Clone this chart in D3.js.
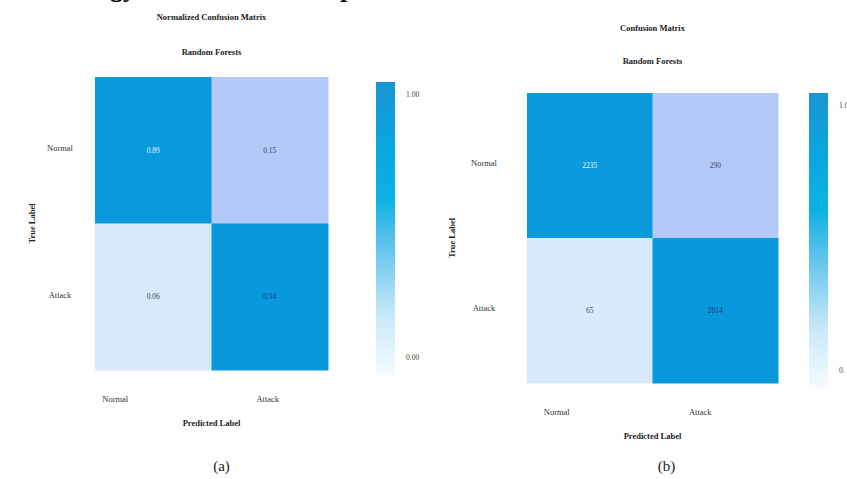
<!DOCTYPE html>
<html>
<head>
<meta charset="utf-8">
<script src="https://cdn.jsdelivr.net/npm/d3@7"></script>
<style>
  html, body { margin: 0; padding: 0; background: #ffffff; }
  svg { display: block; }
  text { font-family: "Liberation Serif", "DejaVu Serif", serif; }
</style>
</head>
<body>
<svg id="chart" width="847" height="479"></svg>
<script>
// Class labels shared by both matrices
const classes = ["Normal", "Attack"];

// Row-normalised confusion matrix (rows = true label, columns = predicted label)
const normalizedValues = [
  [0.89, 0.15],
  [0.06, 0.94]
];

// Raw confusion-matrix counts
const countValues = [
  [2235, 290],
  [65, 2814]
];

// Colour-bar tick labels
const normalizedBarTicks = ["1.00", "0.00"];
const countBarTicks = ["1.0", "0."];

const svg = d3.select("#chart");

// Cell fill palette, lightest to darkest
const cellPalette = ["#d8e9fb", "#b3c9f7", "#0a99db", "#0898dc"];

function drawPanel(cfg) {
  const g = svg.append("g");
  const flat = cfg.values.flat().slice().sort((a, b) => a - b);
  const color = d3.scaleLinear().domain(flat).range(cellPalette);

  const x = d3.scaleBand().domain(classes).range([cfg.left, cfg.right]);
  const y = d3.scaleBand().domain(classes).range([cfg.top, cfg.bottom]);

  const cells = [];
  cfg.values.forEach((row, i) => row.forEach((v, j) => cells.push({ t: classes[i], p: classes[j], v })));

  g.selectAll("rect.cell").data(cells).join("rect")
    .attr("class", "cell")
    .attr("x", d => x(d.p))
    .attr("y", d => y(d.t))
    .attr("width", x.bandwidth() + 0.5)
    .attr("height", y.bandwidth() + 0.5)
    .attr("fill", d => color(d.v));

  g.selectAll("text.val").data(cells).join("text")
    .attr("class", "val")
    .attr("x", d => x(d.p) + x.bandwidth() / 2)
    .attr("y", d => y(d.t) + y.bandwidth() / 2 + 1)
    .attr("text-anchor", "middle")
    .attr("dominant-baseline", "middle")
    .attr("font-size", 7.5)
    .attr("fill", d => d.v >= flat[2] ? (d.t === d.p && d.t === "Normal" ? "#e6f4ff" : "#1e3c6e") : "#3a4660")
    .text(d => cfg.format(d.v));

  // Axis tick labels
  g.selectAll("text.ytick").data(classes).join("text")
    .attr("class", "ytick")
    .attr("x", cfg.left - cfg.yTickGap)
    .attr("y", d => y(d) + y.bandwidth() / 2 - 1)
    .attr("text-anchor", "middle")
    .attr("dominant-baseline", "middle")
    .attr("font-size", 8.5)
    .attr("fill", "#333")
    .text(d => d);

  g.selectAll("text.xtick").data(classes).join("text")
    .attr("class", "xtick")
    .attr("x", (d, i) => x(d) + x.bandwidth() / 2 + cfg.xTickShift[i])
    .attr("y", cfg.bottom + 32)
    .attr("text-anchor", "middle")
    .attr("font-size", 8.5)
    .attr("fill", "#333")
    .text(d => d);

  const cx = (cfg.left + cfg.right) / 2;
  g.append("text").attr("x", cx).attr("y", cfg.title1Y).attr("text-anchor", "middle")
    .attr("font-size", 8.5).attr("font-weight", "bold").attr("fill", "#222").text(cfg.title);
  g.append("text").attr("x", cx).attr("y", cfg.title2Y).attr("text-anchor", "middle")
    .attr("font-size", 8.5).attr("font-weight", "bold").attr("fill", "#222").text("Random Forests");
  g.append("text").attr("x", cx).attr("y", cfg.bottom + 56).attr("text-anchor", "middle")
    .attr("font-size", 8.5).attr("font-weight", "bold").attr("fill", "#222").text("Predicted Label");
  g.append("text")
    .attr("transform", `translate(${cfg.left - cfg.yTitleGap},${(cfg.top + cfg.bottom) / 2}) rotate(-90)`)
    .attr("text-anchor", "middle").attr("font-size", 8.5).attr("font-weight", "bold")
    .attr("fill", "#222").text("True Label");

  // Colour bar
  const gradId = "grad-" + cfg.id;
  const grad = svg.append("defs").append("linearGradient").attr("id", gradId)
    .attr("x1", 0).attr("y1", 1).attr("x2", 0).attr("y2", 0);
  [["0%", "#f6fbff"], ["20%", "#c9e9f8"], ["45%", "#5cc2ec"], ["60%", "#0cb2e4"], ["80%", "#0aa5df"], ["100%", "#1a95d3"]]
    .forEach(([o, c]) => grad.append("stop").attr("offset", o).attr("stop-color", c));

  const bar = d3.scaleLinear().domain([0, 1]).range([cfg.barBottom, cfg.barTop]);
  g.append("rect").attr("x", cfg.barX).attr("y", bar(1)).attr("width", 19)
    .attr("height", bar(0) - bar(1)).attr("fill", `url(#${gradId})`);
  g.selectAll("text.btick").data([1, 0]).join("text")
    .attr("class", "btick")
    .attr("x", cfg.barX + 30)
    .attr("y", d => d === 1 ? bar(1) + 15 : bar(0) - 15)
    .attr("font-size", 7.5)
    .attr("fill", "#444")
    .text((d, i) => cfg.barTicks[i]);

  g.append("text").attr("x", cx + cfg.captionShift).attr("y", 471).attr("text-anchor", "middle")
    .attr("font-size", 15).attr("fill", "#222").text(cfg.caption);
}

drawPanel({
  id: "a", values: normalizedValues, format: d3.format(".2f"),
  left: 95, right: 328, top: 77, bottom: 370,
  title: "Normalized Confusion Matrix", title1Y: 20, title2Y: 55,
  yTickGap: 35, yTitleGap: 60, xTickShift: [-38, -2], captionShift: 10,
  barX: 376, barTop: 82, barBottom: 375, barTicks: normalizedBarTicks, caption: "(a)"
});

drawPanel({
  id: "b", values: countValues, format: d3.format("d"),
  left: 527, right: 778, top: 93, bottom: 383,
  title: "Confusion Matrix", title1Y: 31, title2Y: 64,
  yTickGap: 43, yTitleGap: 72, xTickShift: [-33, -15], captionShift: 14,
  barX: 809, barTop: 93, barBottom: 388, barTicks: countBarTicks, caption: "(b)"
});

// Descenders of the page heading running above the figure
svg.append("text").attr("x", 110).attr("y", -3).attr("font-size", 26).attr("font-weight", "bold")
  .attr("fill", "#000").text("gy");
svg.append("text").attr("x", 340).attr("y", -3).attr("font-size", 26).attr("font-weight", "bold")
  .attr("fill", "#000").text("p");
</script>
</body>
</html>
